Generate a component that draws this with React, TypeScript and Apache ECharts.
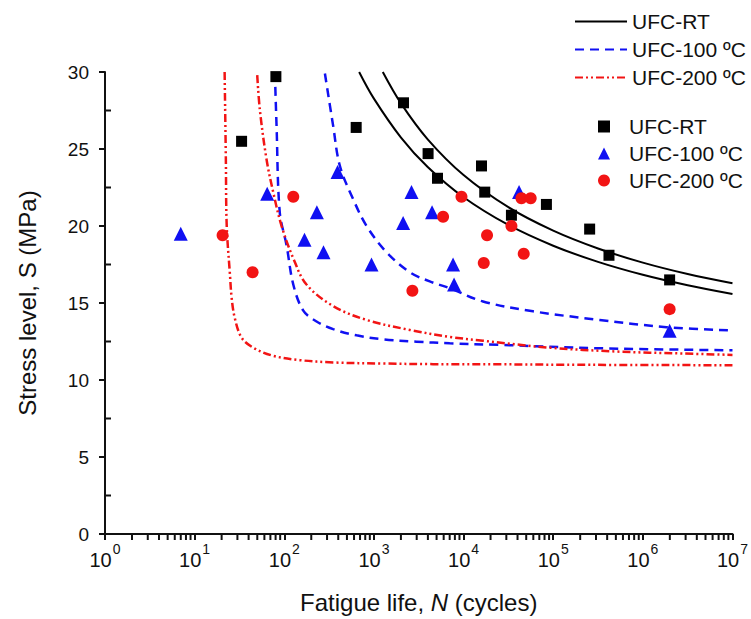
import React, { useEffect, useRef } from 'react';
import * as echarts from 'echarts';

const FONT = '"Liberation Sans", Arial, Helvetica, sans-serif';
const INK = '#111111';
const BLUE = '#1010f2';
const RED = '#f21414';

// Experimental points: fatigue life N (cycles) and stress level S (MPa)
const RT_N = [80.6, 33.4, 634, 2138, 4020, 5117, 15850, 17230, 34200, 84000, 255000, 419000, 1990000];
const RT_S = [29.7, 25.5, 26.4, 28.0, 24.7, 23.1, 23.9, 22.2, 20.7, 21.4, 19.8, 18.1, 16.5];

const T100_N = [7.0, 64.5, 231, 168, 274, 393, 940, 2625, 2117, 4456, 7640, 7834, 41600, 1990000];
const T100_S = [19.5, 22.1, 20.9, 19.1, 18.3, 23.5, 17.5, 22.2, 20.2, 20.9, 17.5, 16.2, 22.2, 13.2];

const T200_N = [20.5, 44.3, 126, 2686, 5910, 9480, 18280, 16800, 34200, 46900, 44200, 56100, 1990000];
const T200_S = [19.4, 17.0, 21.9, 15.8, 20.6, 21.9, 19.4, 17.6, 20.0, 18.2, 21.8, 21.8, 14.6];

// Fitted curves
const RT_FIT_A_N = [1256, 1995, 3981, 10000, 31623, 100000, 316228, 1000000, 3162278, 10000000];
const RT_FIT_A_S = [30.0, 27.98, 25.63, 23.31, 21.22, 19.7, 18.54, 17.62, 16.88, 16.28];
const RT_FIT_B_N = [684, 1000, 1995, 3981, 10000, 31623, 100000, 316228, 1000000, 3162278, 10000000];
const RT_FIT_B_S = [30.0, 28.27, 25.76, 23.83, 21.87, 20.07, 18.72, 17.67, 16.83, 16.15, 15.58];

const T100_FIT_A_N = [78.5, 82, 89, 106, 126, 163, 229, 351, 640, 1268, 2985, 7015, 25350, 330000, 10000000];
const T100_FIT_A_S = [30.0, 26.5, 20.9, 18.75, 16.2, 14.5, 13.8, 13.3, 12.9, 12.64, 12.49, 12.38, 12.28, 12.06, 11.93];
const T100_FIT_B_N = [284, 351, 417, 586, 828, 1380, 2512, 4198, 7015, 16480, 59570, 330000, 1830000, 10000000];
const T100_FIT_B_S = [29.9, 26.5, 23.9, 21.75, 20.0, 18.3, 17.0, 16.4, 15.96, 15.1, 14.46, 13.9, 13.43, 13.22];

const T200_FIT_A_N = [21.6, 22.3, 22.8, 24.8, 25.9, 28.1, 33.4, 45, 75.2, 149, 351, 1268, 4571, 25350, 140000, 10000000];
const T200_FIT_A_S = [30.0, 24.3, 20.0, 16.8, 15.3, 14.0, 12.75, 12.1, 11.57, 11.29, 11.14, 11.07, 11.03, 11.02, 10.99, 10.96];
const T200_FIT_B_N = [49.9, 53.5, 63.5, 75.2, 93.3, 126, 177, 351, 828, 2512, 7015, 16480, 91410, 507000, 2800000, 10000000];
const T200_FIT_B_S = [29.8, 27.5, 24.3, 22.2, 20.0, 17.9, 16.2, 14.8, 13.9, 13.25, 12.8, 12.55, 12.1, 11.85, 11.72, 11.63];

const LINE_NAMES = ['UFC-RT', 'UFC-100 ºC', 'UFC-200 ºC'];
const POINT_NAMES = ['UFC-RT ', 'UFC-100 ºC ', 'UFC-200 ºC '];

const DECADES = [1, 10, 100, 1000, 10000, 100000, 1000000];
const MINOR_STEPS = [2, 3, 4, 5, 6, 7, 8, 9];
const Y_MINOR_TICKS = [2.5, 7.5, 12.5, 17.5, 22.5, 27.5];

const zip = (xs: number[], ys: number[]) => xs.map((x, i) => [x, ys[i]]);

function buildOption() {
  const minorX: number[][] = [];
  DECADES.forEach((d) => MINOR_STEPS.forEach((m) => minorX.push([d * m, 0])));
  const minorY = Y_MINOR_TICKS.map((v) => [1, v]);

  const fitLine = (name: string, xs: number[], ys: number[], color: string, type: any, width: number) => ({
    type: 'line',
    name,
    data: zip(xs, ys),
    showSymbol: false,
    symbol: 'none',
    smooth: 0.35,
    color,
    lineStyle: { color, width, type },
    z: 3,
    silent: true,
  });

  return {
    animation: false,
    backgroundColor: '#ffffff',
    textStyle: { fontFamily: FONT, color: INK },
    grid: { left: 105, right: 18, top: 72, bottom: 81, containLabel: false },
    legend: [
      {
        data: LINE_NAMES,
        orient: 'vertical',
        left: 569,
        top: 6,
        itemWidth: 52,
        itemHeight: 14,
        itemGap: 7,
        itemStyle: { opacity: 0 },
        textStyle: { fontFamily: FONT, fontSize: 21, color: INK },
        selectedMode: false,
      },
      {
        data: POINT_NAMES,
        orient: 'vertical',
        left: 593,
        top: 111,
        itemWidth: 12,
        itemHeight: 12,
        itemGap: 6,
        formatter: (n: string) => n.trim(),
        textStyle: { fontFamily: FONT, fontSize: 21, color: INK, padding: [0, 0, 0, 14] },
        selectedMode: false,
      },
    ],
    xAxis: {
      type: 'log',
      logBase: 10,
      min: 1,
      max: 10000000,
      splitNumber: 7,
      name: 'Fatigue life, {i|N} (cycles)',
      nameLocation: 'middle',
      nameGap: 56,
      nameTextStyle: {
        fontFamily: FONT,
        fontSize: 24,
        color: INK,
        rich: { i: { fontFamily: FONT, fontSize: 24, fontStyle: 'italic', color: INK } },
      },
      axisLine: { show: true, lineStyle: { color: INK, width: 2 } },
      axisTick: { show: true, inside: false, length: 6, lineStyle: { color: INK, width: 2 } },
      splitLine: { show: false },
      minorTick: { show: false },
      axisLabel: {
        margin: 8,
        formatter: (v: number) => `{b|10}{s|${Math.round(Math.log10(v))}}`,
        rich: {
          b: { fontFamily: FONT, fontSize: 20, color: INK, lineHeight: 28, verticalAlign: 'bottom' },
          s: { fontFamily: FONT, fontSize: 14, color: INK, lineHeight: 14, verticalAlign: 'top', padding: [0, 0, 0, 1] },
        },
      },
    },
    yAxis: {
      type: 'value',
      min: 0,
      max: 30,
      interval: 5,
      name: 'Stress level, {i|S} (MPa)',
      nameLocation: 'middle',
      nameGap: 66,
      nameTextStyle: {
        fontFamily: FONT,
        fontSize: 24,
        color: INK,
        rich: { i: { fontFamily: FONT, fontSize: 24, color: INK } },
      },
      axisLine: { show: true, lineStyle: { color: INK, width: 2 } },
      axisTick: { show: true, inside: false, length: 6, lineStyle: { color: INK, width: 2 } },
      splitLine: { show: false },
      axisLabel: { margin: 16, fontFamily: FONT, fontSize: 19, color: INK },
    },
    series: [
      fitLine(LINE_NAMES[0], RT_FIT_A_N, RT_FIT_A_S, '#000000', 'solid', 2),
      fitLine(LINE_NAMES[0], RT_FIT_B_N, RT_FIT_B_S, '#000000', 'solid', 2),
      fitLine(LINE_NAMES[1], T100_FIT_A_N, T100_FIT_A_S, BLUE, [9, 6], 2.5),
      fitLine(LINE_NAMES[1], T100_FIT_B_N, T100_FIT_B_S, BLUE, [9, 6], 2.5),
      fitLine(LINE_NAMES[2], T200_FIT_A_N, T200_FIT_A_S, RED, [8, 3, 2, 3, 2, 3], 2.5),
      fitLine(LINE_NAMES[2], T200_FIT_B_N, T200_FIT_B_S, RED, [8, 3, 2, 3, 2, 3], 2.5),
      {
        type: 'scatter',
        name: POINT_NAMES[0],
        data: zip(RT_N, RT_S),
        symbol: 'rect',
        symbolSize: 11,
        itemStyle: { color: '#000000', opacity: 1 },
        z: 5,
      },
      {
        type: 'scatter',
        name: POINT_NAMES[1],
        data: zip(T100_N, T100_S),
        symbol: 'triangle',
        symbolSize: 14,
        itemStyle: { color: BLUE, opacity: 1 },
        z: 5,
      },
      {
        type: 'scatter',
        name: POINT_NAMES[2],
        data: zip(T200_N, T200_S),
        symbol: 'circle',
        symbolSize: 12,
        itemStyle: { color: RED, opacity: 1 },
        z: 5,
      },
      {
        type: 'scatter',
        name: 'x-minor-ticks',
        data: minorX,
        symbol: 'rect',
        symbolSize: [2, 5],
        symbolOffset: [0, 3.5],
        itemStyle: { color: INK, opacity: 1 },
        clip: false,
        silent: true,
        z: 6,
      },
      {
        type: 'scatter',
        name: 'y-minor-ticks',
        data: minorY,
        symbol: 'rect',
        symbolSize: [5, 2],
        symbolOffset: [3.5, 0],
        itemStyle: { color: INK, opacity: 1 },
        clip: false,
        silent: true,
        z: 6,
      },
    ],
  };
}

export default function App() {
  const ref = useRef<HTMLDivElement>(null);
  useEffect(() => {
    const chart = echarts.init(ref.current!, null, { renderer: 'svg' });
    chart.setOption(buildOption() as any);
    return () => chart.dispose();
  }, []);
  return (
    <div
      ref={ref}
      style={{ position: 'fixed', left: 0, top: 0, width: 751, height: 619, background: '#fff' }}
    />
  );
}
